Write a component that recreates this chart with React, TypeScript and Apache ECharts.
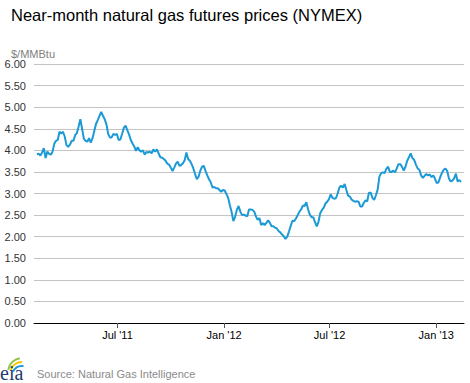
import React, { useEffect, useRef } from "react";
import * as echarts from "echarts";

const titleText = "Near-month natural gas futures prices (NYMEX)";
const unitText = "$/MMBtu";
const sourceText = "Source: Natural Gas Intelligence";

const axisStart = "2011-02-07";
const axisEnd = "2013-02-18";
const firstDate = "2011-02-12";
const stepDays = 3;

const tickDates = ["2011-07-01", "2012-01-01", "2012-07-01", "2013-01-01"];
const tickLabels = ["Jul '11", "Jan '12", "Jul '12", "Jan '13"];

const yMin = 0;
const yMax = 6;
const yStep = 0.5;

const prices = [
  3.91, 3.92, 3.88, 3.95, 4.05, 3.82, 3.97, 3.92, 3.9, 3.97,
  4.15, 4.22, 4.24, 4.43, 4.39, 4.43, 4.32, 4.12, 4.08, 4.13,
  4.22, 4.22, 4.35, 4.4, 4.55, 4.72, 4.5, 4.27, 4.22, 4.2,
  4.28, 4.18, 4.28, 4.45, 4.61, 4.7, 4.8, 4.89, 4.8, 4.72,
  4.6, 4.38, 4.3, 4.3, 4.38, 4.36, 4.38, 4.24, 4.25, 4.38,
  4.52, 4.57, 4.47, 4.37, 4.24, 4.16, 4.09, 3.99, 4.07, 4.0,
  3.97, 4.0, 3.9, 3.96, 3.95, 3.97, 3.93, 4.02, 3.97, 4.02,
  3.93, 3.84, 3.83, 3.8, 3.76, 3.69, 3.67, 3.6, 3.52, 3.6,
  3.69, 3.74, 3.64, 3.66, 3.7, 3.77, 3.95, 3.8, 3.76, 3.68,
  3.58, 3.45, 3.33, 3.39, 3.53, 3.62, 3.64, 3.52, 3.42, 3.33,
  3.26, 3.14, 3.15, 3.12, 3.12, 3.08, 3.04, 3.08, 3.07, 2.99,
  2.9, 2.73, 2.57, 2.36, 2.46, 2.62, 2.71, 2.58, 2.5, 2.51,
  2.49, 2.47, 2.63, 2.63, 2.62, 2.58, 2.47, 2.39, 2.43, 2.27,
  2.31, 2.27, 2.32, 2.38, 2.32, 2.24, 2.24, 2.21, 2.19, 2.13,
  2.1, 2.05, 2.01, 1.95, 2.0, 2.12, 2.25, 2.37, 2.36, 2.42,
  2.5, 2.58, 2.63, 2.72, 2.71, 2.8, 2.63, 2.51, 2.45, 2.45,
  2.33, 2.24, 2.35, 2.55, 2.62, 2.67, 2.77, 2.81, 2.87, 2.98,
  2.9, 2.88, 2.89, 3.0, 3.14, 3.18, 3.14, 3.22, 3.08, 2.95,
  2.93, 2.86, 2.83, 2.81, 2.82, 2.81, 2.7, 2.7, 2.78, 2.84,
  2.82, 3.02, 3.02, 2.9, 2.85, 2.96, 3.09, 3.39, 3.47, 3.49,
  3.47, 3.57, 3.62, 3.5, 3.5, 3.53, 3.49, 3.58, 3.68, 3.68,
  3.62, 3.53, 3.62, 3.76, 3.84, 3.93, 3.82, 3.78, 3.67, 3.58,
  3.55, 3.42, 3.36, 3.41, 3.45, 3.42, 3.44, 3.38, 3.42, 3.34,
  3.24, 3.26, 3.38, 3.48, 3.55, 3.58, 3.52, 3.35, 3.28, 3.3,
  3.35, 3.46, 3.28, 3.31, 3.27,
];

const DAY = 86400000;
const toTime = (s: string) => {
  const [y, m, d] = s.split("-").map(Number);
  return Date.UTC(y, m - 1, d);
};

export default function App() {
  const ref = useRef<HTMLDivElement>(null);

  useEffect(() => {
    if (!ref.current) return;
    const chart = echarts.init(ref.current, undefined, { renderer: "svg" });
    const t0 = toTime(firstDate);
    const data = prices.map((v, i) => [t0 + i * stepDays * DAY, v]);
    const tickTimes = tickDates.map(toTime);
    const fmt = (val: number) => {
      let best = -1;
      let bd = Infinity;
      tickTimes.forEach((t, i) => {
        const d = Math.abs(t - val);
        if (d < bd) {
          bd = d;
          best = i;
        }
      });
      return bd < 2 * DAY ? tickLabels[best] : "";
    };

    chart.setOption({
      animation: false,
      backgroundColor: "#ffffff",
      title: [
        {
          text: titleText,
          left: 6,
          top: 1,
          textStyle: {
            fontFamily: "Liberation Sans, Arial, sans-serif",
            fontSize: 16.5,
            fontWeight: "normal",
            color: "#000000",
          },
        },
        {
          text: unitText,
          left: 6,
          top: 43,
          textStyle: {
            fontFamily: "Liberation Sans, Arial, sans-serif",
            fontSize: 11,
            fontWeight: "normal",
            color: "#808080",
          },
        },
      ],
      grid: { left: 34, right: 6, top: 64, bottom: 60, containLabel: false },
      xAxis: {
        type: "value",
        min: toTime(axisStart),
        max: toTime(axisEnd),
        axisLine: { show: true, lineStyle: { color: "#000000", width: 1 } },
        axisTick: {
          show: true,
          length: 5,
          lineStyle: { color: "#555555" },
          customValues: tickTimes,
        },
        axisLabel: {
          customValues: tickTimes,
          formatter: fmt,
          color: "#000000",
          fontSize: 11,
          fontFamily: "Liberation Sans, Arial, sans-serif",
          margin: 6,
        },
        splitLine: { show: false },
      },
      yAxis: {
        type: "value",
        min: yMin,
        max: yMax,
        interval: yStep,
        axisLine: { show: false },
        axisTick: { show: false },
        axisLabel: {
          formatter: (v: number) => v.toFixed(2),
          color: "#333333",
          fontSize: 11,
          fontFamily: "Liberation Sans, Arial, sans-serif",
          margin: 8,
        },
        splitLine: { show: true, lineStyle: { color: "#c4c4c4", width: 1 } },
      },
      series: [
        {
          type: "line",
          data,
          showSymbol: false,
          symbol: "none",
          lineStyle: { color: "#1b9ad6", width: 2 },
          z: 3,
        },
      ],
      graphic: [
        {
          type: "arc",
          shape: { cx: 22, cy: 372, r: 14, startAngle: Math.PI * 1.05, endAngle: Math.PI * 1.45 },
          style: { stroke: "#8cc63f", lineWidth: 2, fill: "none" },
        },
        {
          type: "arc",
          shape: { cx: 22, cy: 374, r: 12, startAngle: Math.PI * 1.1, endAngle: Math.PI * 1.5 },
          style: { stroke: "#f5c400", lineWidth: 2, fill: "none" },
        },
        {
          type: "arc",
          shape: { cx: 22, cy: 376, r: 10, startAngle: Math.PI * 1.15, endAngle: Math.PI * 1.55 },
          style: { stroke: "#1b9ad6", lineWidth: 2, fill: "none" },
        },
        {
          type: "text",
          left: 0,
          top: 363,
          style: {
            text: "eia",
            fill: "#1f3b6f",
            font: "20px 'Liberation Serif', serif",
          },
        },
        {
          type: "text",
          left: 37,
          top: 368,
          style: {
            text: sourceText,
            fill: "#8a8a8a",
            font: "11px 'Liberation Sans', Arial, sans-serif",
          },
        },
      ],
    });
    return () => chart.dispose();
  }, []);

  return (
    <div
      ref={ref}
      style={{ position: "fixed", left: 0, top: 0, width: 470, height: 383 }}
    />
  );
}
